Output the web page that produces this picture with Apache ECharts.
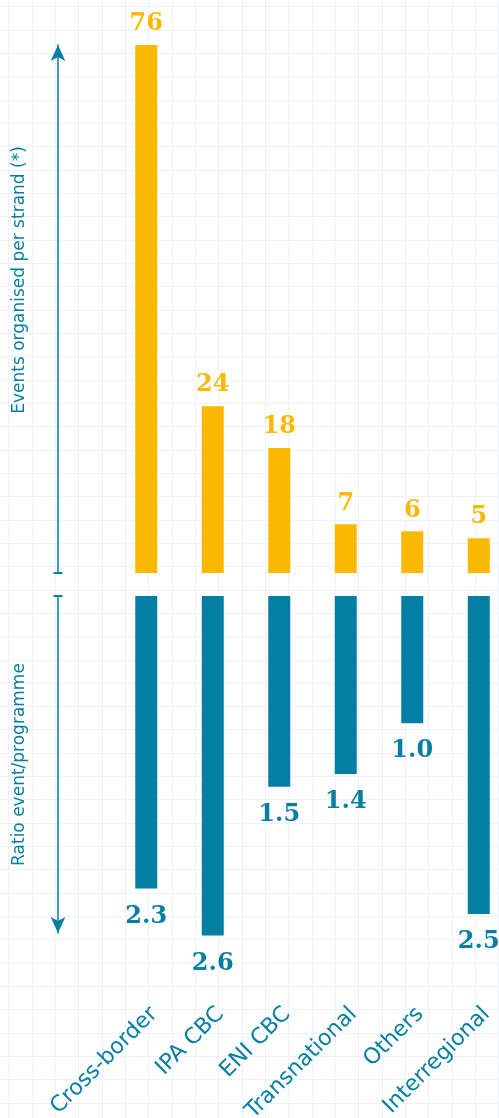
<!DOCTYPE html>
<html>
<head>
<meta charset="utf-8">
<script src="https://cdn.jsdelivr.net/npm/echarts@6/dist/echarts.min.js"></script>
<style>
html,body{margin:0;padding:0;background:#ffffff;}
#chart{width:499px;height:1118px;}
</style>
</head>
<body>
<div id="chart"></div>
<script>
const categories = ['Cross-border', 'IPA CBC', 'ENI CBC', 'Transnational', 'Others', 'Interregional'];
const eventsPerStrand = [76, 24, 18, 7, 6, 5];
const ratioEventProgramme = [2.3, 2.67, 1.5, 1.4, 1.0, 2.5];
const topAxisName = 'Events organised per strand (*)';
const bottomAxisName = 'Ratio event/programme';

const ORANGE = '#fbb800';
const TEAL = '#047ea2';
const GRIDLINE = '#edf2f6';
const SANS = 'DejaVu Sans';
const SERIF = 'DejaVu Serif';

const chart = echarts.init(document.getElementById('chart'), null, {renderer: 'canvas'});

function arrowAxis(gridIndex, max, inverse, name, namePadding, symbols) {
  return [
    {
      gridIndex: gridIndex, type: 'value', min: 0, max: max, inverse: inverse,
      position: 'left', offset: 55,
      axisLine: {show: true, symbol: symbols, symbolSize: [11, 16],
        lineStyle: {color: TEAL, width: 1.5}},
      axisTick: {show: true, customValues: [0], length: 4.5, lineStyle: {color: TEAL, width: 2}},
      axisLabel: {show: false},
      splitLine: {show: false},
      name: name, nameLocation: 'middle', nameRotate: 90, nameGap: 30,
      nameTextStyle: {color: TEAL, fontFamily: SANS, fontSize: 17, padding: namePadding}
    },
    {
      gridIndex: gridIndex, type: 'value', min: 0, max: max, inverse: inverse,
      position: 'left', offset: 55,
      axisLine: {show: false},
      axisTick: {show: true, inside: true, customValues: [0], length: 4.5, lineStyle: {color: TEAL, width: 2}},
      axisLabel: {show: false},
      splitLine: {show: false}
    }
  ];
}

const option = {
  backgroundColor: '#ffffff',
  animation: false,
  grid: [
    {left: 113, width: 399, top: 45, height: 528, containLabel: false, outerBoundsMode: 'none'},
    {left: 113, width: 399, top: 596, height: 337, containLabel: false, outerBoundsMode: 'none'},
    {left: -14.83, top: -16.83, width: 536.6, height: 1143.2, containLabel: false, outerBoundsMode: 'none'}
  ],
  xAxis: [
    {gridIndex: 0, type: 'category', data: categories, show: false},
    {gridIndex: 1, type: 'category', data: categories, position: 'bottom',
      axisLine: {show: false}, axisTick: {show: false}, splitLine: {show: false},
      axisLabel: {rotate: 45, margin: 70, color: TEAL, fontFamily: SANS, fontSize: 22, interval: 0,
        verticalAlign: 'top'}},
    {gridIndex: 2, type: 'value', min: 0, max: 23, interval: 1,
      axisLine: {show: false}, axisTick: {show: false}, axisLabel: {show: false},
      splitLine: {show: true, lineStyle: {color: GRIDLINE, width: 1}}}
  ],
  yAxis: [
    ...arrowAxis(0, 76, false, topAxisName, [0, 0, 0, 58], ['none', 'arrow']),
    ...arrowAxis(1, 2.65, true, bottomAxisName, [0, 0, 0, 0], ['arrow', 'none']),
    {gridIndex: 2, type: 'value', min: 0, max: 49, interval: 1,
      axisLine: {show: false}, axisTick: {show: false}, axisLabel: {show: false},
      splitLine: {show: true, lineStyle: {color: GRIDLINE, width: 1}}}
  ],
  series: [
    {
      type: 'bar', xAxisIndex: 0, yAxisIndex: 0, data: eventsPerStrand, barWidth: 22,
      itemStyle: {color: ORANGE},
      label: {show: true, position: 'top', distance: 9, color: ORANGE,
        fontFamily: SERIF, fontWeight: 'bold', fontSize: 24}
    },
    {
      type: 'bar', xAxisIndex: 1, yAxisIndex: 2, data: ratioEventProgramme, barWidth: 22, clip: false,
      itemStyle: {color: TEAL},
      label: {show: true, position: 'bottom', distance: 16, color: TEAL,
        fontFamily: SERIF, fontWeight: 'bold', fontSize: 24,
        formatter: function (p) { return (Math.floor(p.value * 10 + 1e-6) / 10).toFixed(1); }}
    }
  ]
};
chart.setOption(option);
</script>
</body>
</html>
